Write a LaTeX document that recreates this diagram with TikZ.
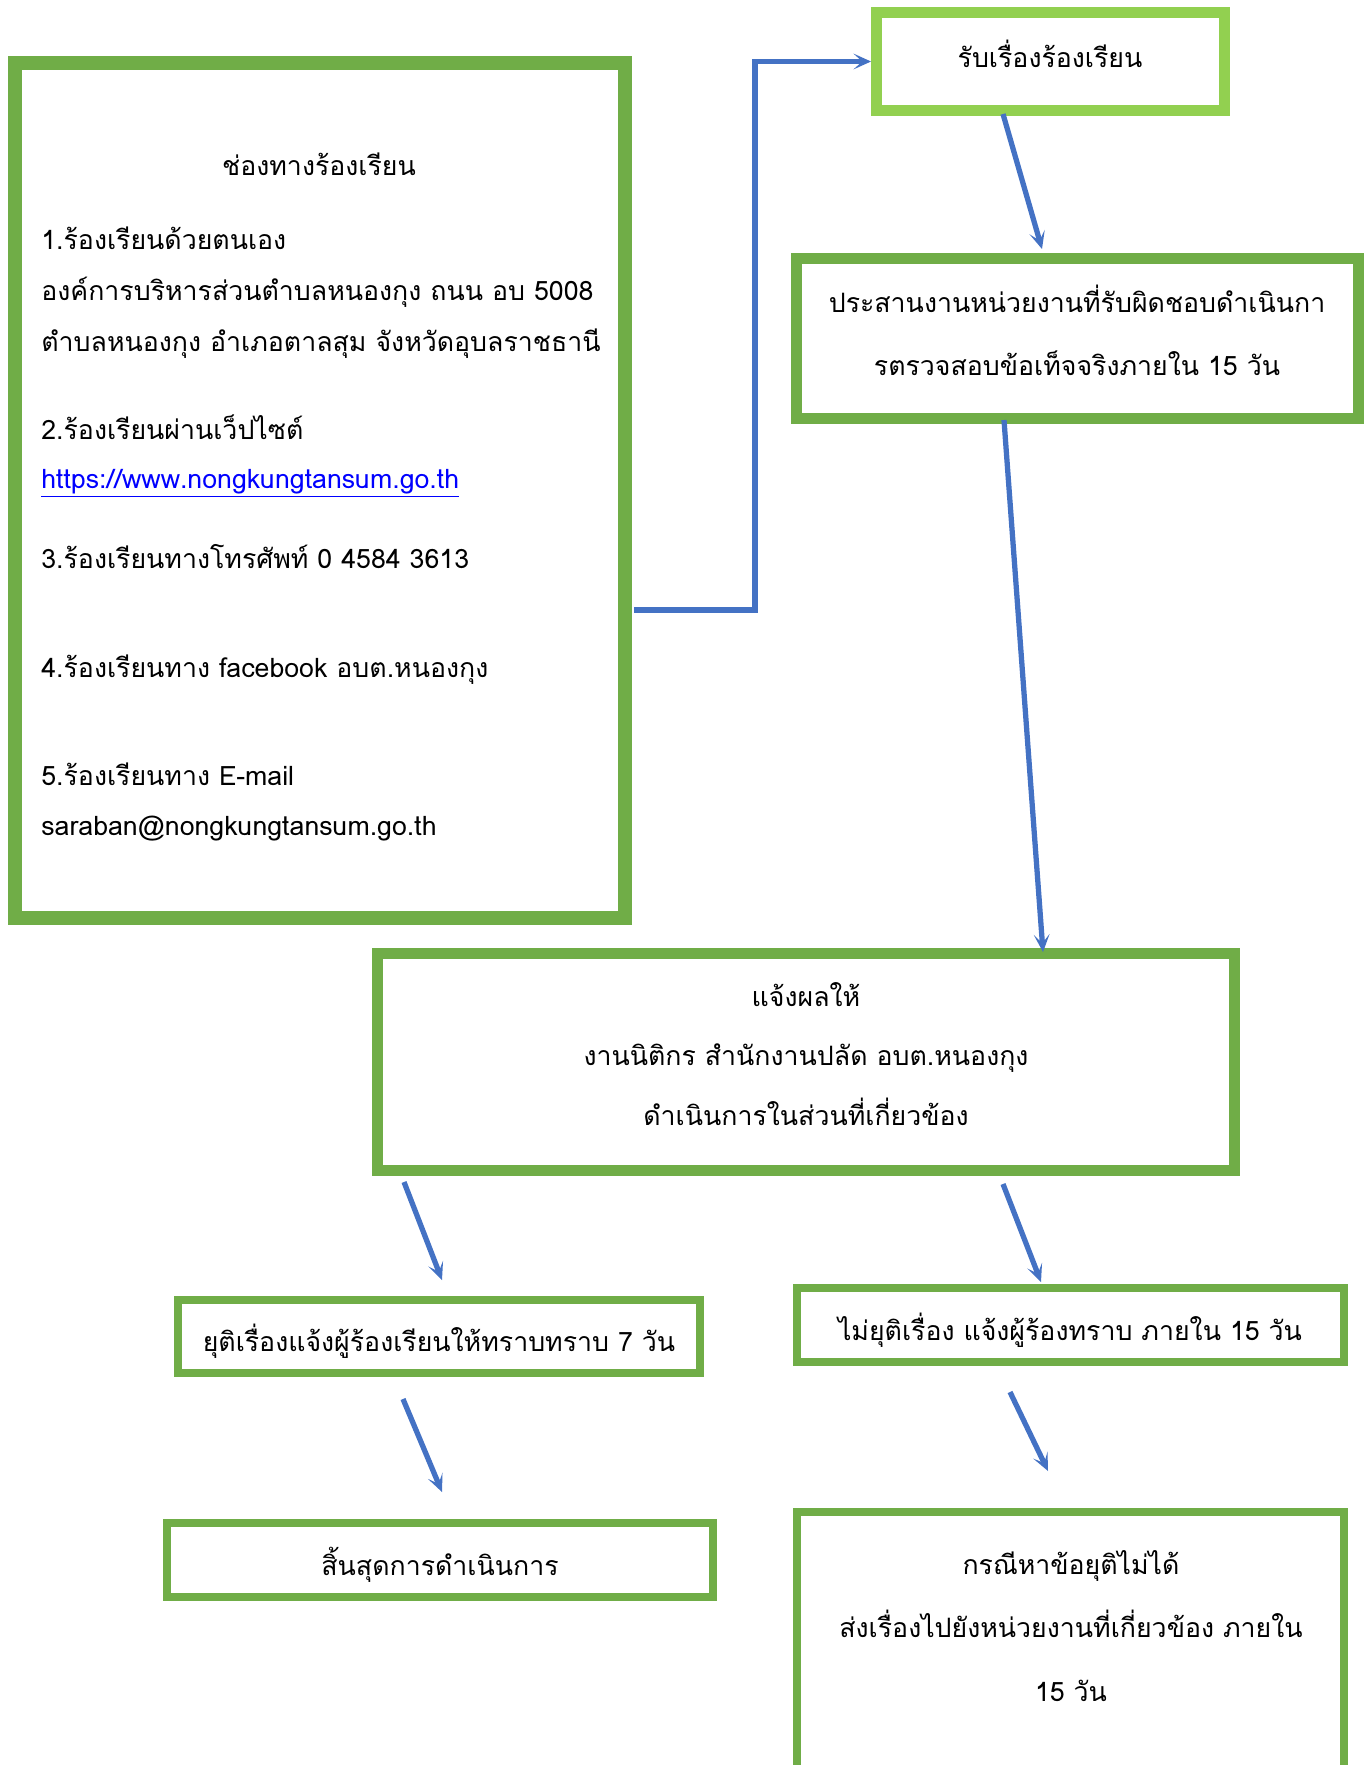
\documentclass[tikz,border=0pt]{standalone}
\usepackage{fontspec}
\setmainfont{Loma}[Script=Thai]
\usetikzlibrary{arrows.meta}

\definecolor{boxgreen}{RGB}{112,173,71}
\definecolor{lightgreen}{RGB}{146,208,80}
\definecolor{flowblue}{RGB}{68,114,196}
\definecolor{linkblue}{RGB}{0,0,255}

\tikzset{
	box/.style = {draw = boxgreen, line width = 0.22cm, rectangle, inner sep = 0pt},
	thinbox/.style = {box, line width = 0.16cm},
	txt/.style = {font = \fontsize{15.2}{34}\selectfont, inner sep = 0pt, align = center},
	widetxt/.style = {txt, font = \fontsize{15.2}{36}\selectfont},
	flow/.style = {draw = flowblue, line width = 3pt, -{Stealth[length = 10pt, width = 9pt, inset = 5pt]}}
}

\begin{document}
\begin{tikzpicture} [x = 0.02cm, y = -0.02cm]
	\useasboundingbox (0,0) rectangle (1365,1765);
	\clip (0,0) rectangle (1365,1765);
	% channels box
	\node [box, line width = 0.27cm, minimum width = 12.21cm, minimum height = 17.11cm] (channels) at (320,490.5) {};
	\node [txt] (chtitle) at (319,164) {ช่องทางร้องเรียน};
	\node [txt, anchor = base west] (ch1a) at (41,249) {1.ร้องเรียนด้วยตนเอง};
	\node [txt, anchor = base west] (ch1b) at (41,300) {องค์การบริหารส่วนตำบลหนองกุง ถนน อบ 5008};
	\node [txt, anchor = base west] (ch1c) at (41,351) {ตำบลหนองกุง อำเภอตาลสุม จังหวัดอุบลราชธานี};
	\node [txt, anchor = base west] (ch2a) at (41,439) {2.ร้องเรียนผ่านเว็ปไซต์};
	\node [txt, anchor = base west, text = linkblue] (ch2b) at (41,488) {\underline{https://www.nongkungtansum.go.th}};
	\node [txt, anchor = base west] (ch3) at (41,568) {3.ร้องเรียนทางโทรศัพท์ 0 4584 3613};
	\node [txt, anchor = base west] (ch4) at (41,677) {4.ร้องเรียนทาง facebook อบต.หนองกุง};
	\node [txt, anchor = base west] (ch5a) at (41,785) {5.ร้องเรียนทาง E-mail};
	\node [txt, anchor = base west] (ch5b) at (41,835) {saraban@nongkungtansum.go.th};
	% step boxes
	\node [box, draw = lightgreen, minimum width = 6.96cm, minimum height = 1.96cm] (receive) at (1050.5,61.5) {};
	\node [box, minimum width = 11.24cm, minimum height = 3.2cm] (check) at (1077.5,338.5) {};
	\node [box, minimum width = 17.14cm, minimum height = 4.34cm] (notify) at (806,1062) {};
	\node [thinbox, minimum width = 10.44cm, minimum height = 1.46cm] (settled) at (439,1336.5) {};
	\node [thinbox, minimum width = 10.94cm, minimum height = 1.48cm] (unsettled) at (1070.5,1325) {};
	\node [thinbox, minimum width = 10.92cm, minimum height = 1.48cm] (finish) at (440,1560) {};
	\node [thinbox, minimum width = 10.94cm, minimum height = 5.56cm] (forward) at (1070.5,1651) {};
	% step texts
	\node [txt] (receivetxt) at (1050,53.5) {รับเรื่องร้องเรียน};
	\node [widetxt] (checktxt) at (1077,330) {ประสานงานหน่วยงานที่รับผิดชอบดำเนินกา\\รตรวจสอบข้อเท็จจริงภายใน 15 วัน};
	\node [txt] (notifytxt) at (806,1054) {แจ้งผลให้\\งานนิติกร สำนักงานปลัด อบต.หนองกุง\\ดำเนินการในส่วนที่เกี่ยวข้อง};
	\node [txt] (settledtxt) at (439,1341) {ยุติเรื่องแจ้งผู้ร้องเรียนให้ทราบทราบ 7 วัน};
	\node [txt] (unsettledtxt) at (1070,1330.5) {ไม่ยุติเรื่อง แจ้งผู้ร้องทราบ ภายใน 15 วัน};
	\node [txt] (finishtxt) at (440,1564.5) {สิ้นสุดการดำเนินการ};
	\node [widetxt] (forwardtxt) at (1071,1626) {กรณีหาข้อยุติไม่ได้\\ส่งเรื่องไปยังหน่วยงานที่เกี่ยวข้อง ภายใน\\15 วัน};
	% arrow ends
	\coordinate (chout) at (634,610);
	\coordinate (recvout) at (1003,114);
	\coordinate (checkin) at (1042,249);
	\coordinate (checkout) at (1004,420);
	\coordinate (notifyin) at (1043,952);
	\coordinate (notifyl) at (404,1182);
	\coordinate (settledin) at (442,1280);
	\coordinate (notifyr) at (1003,1184);
	\coordinate (unsetin) at (1041,1282);
	\coordinate (settledout) at (403,1399);
	\coordinate (finishin) at (442,1492);
	\coordinate (unsetout) at (1010,1392);
	\coordinate (forwardin) at (1048,1471);
	% arrows
	\draw [flow] (chout) -- ++(121,0) |- (receive.west);
	\draw [flow] (recvout) -- (checkin);
	\draw [flow] (checkout) -- (notifyin);
	\draw [flow] (notifyl) -- (settledin);
	\draw [flow] (notifyr) -- (unsetin);
	\draw [flow] (settledout) -- (finishin);
	\draw [flow] (unsetout) -- (forwardin);
\end{tikzpicture}
\end{document}
